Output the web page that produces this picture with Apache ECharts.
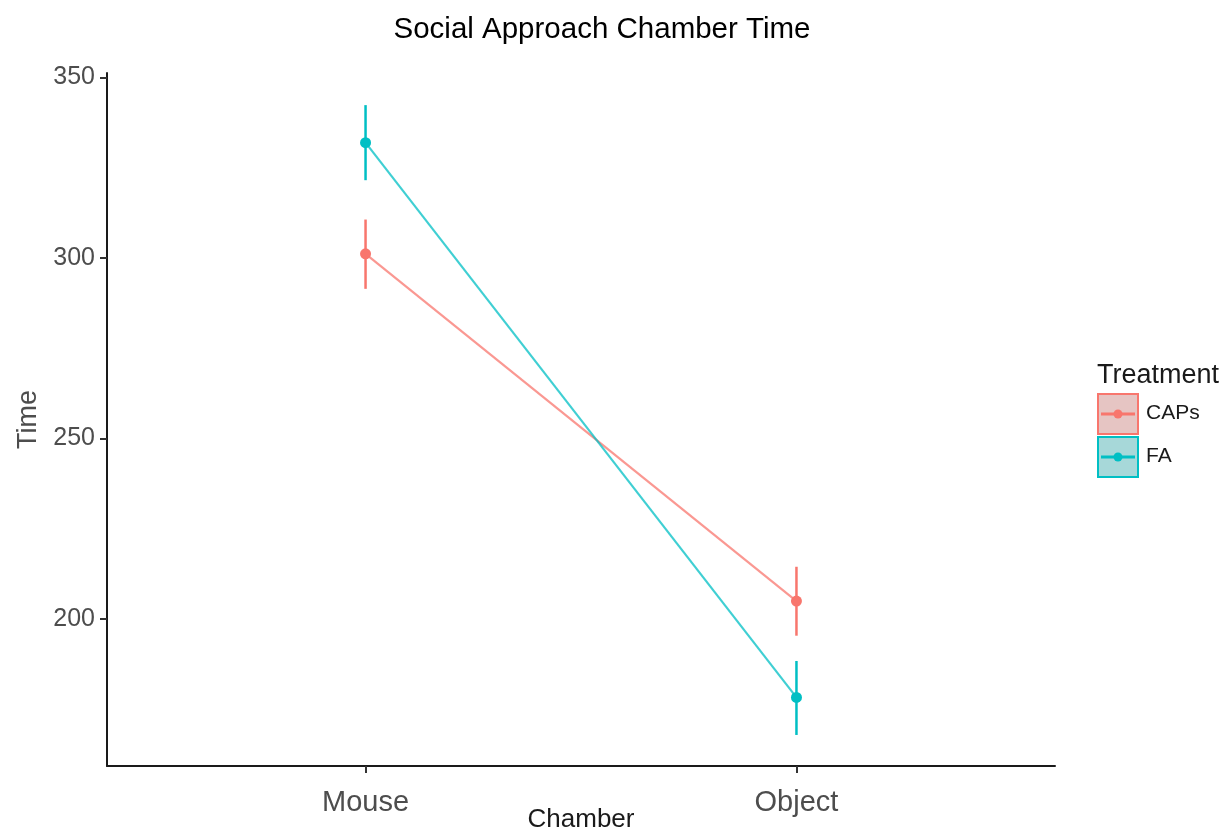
<!DOCTYPE html>
<html>
<head>
<meta charset="utf-8">
<script src="https://cdn.jsdelivr.net/npm/echarts@6/dist/echarts.min.js"></script>
<style>
  html, body { margin: 0; padding: 0; background: #ffffff; }
  #chart { width: 1225px; height: 833px; }
</style>
</head>
<body>
<div id="chart"></div>
<script>
// Chamber categories on the x axis
const chambers = ['Mouse', 'Object'];
const yTicks = [200, 250, 300, 350];

// Treatment groups
const treatments = ['CAPs', 'FA'];
const colors = ['#F8766D', '#00BFC4'];

// Mean chamber time per treatment (Mouse, Object)
const capsMean = [301.1, 204.9];
const faMean = [331.9, 178.2];

// Error bar limits per treatment (Mouse, Object)
const capsLower = [291.4, 195.3];
const capsUpper = [310.6, 214.4];
const faLower = [321.5, 167.8];
const faUpper = [342.3, 188.3];

const means = [capsMean, faMean];
const lowers = [capsLower, faLower];
const uppers = [capsUpper, faUpper];

const FONT = '"Liberation Sans", Arial, Helvetica, sans-serif';

const chart = echarts.init(document.getElementById('chart'), null, { renderer: 'canvas' });

const series = [];
treatments.forEach((name, i) => {
  series.push({
    name: name + ' error',
    type: 'custom',
    data: chambers.map((c, k) => [k + 1, lowers[i][k], uppers[i][k]]),
    renderItem: function (params, api) {
      const x = api.value(0);
      const lo = api.coord([x, api.value(1)]);
      const hi = api.coord([x, api.value(2)]);
      return {
        type: 'line',
        shape: { x1: lo[0], y1: lo[1], x2: hi[0], y2: hi[1] },
        style: { stroke: colors[i], lineWidth: 2.5 }
      };
    },
    z: 2,
    silent: true
  });
});
treatments.forEach((name, i) => {
  series.push({
    name: name,
    type: 'line',
    data: chambers.map((c, k) => [k + 1, means[i][k]]),
    symbol: 'circle',
    symbolSize: 11,
    showSymbol: true,
    lineStyle: { color: colors[i], width: 2.2, opacity: 0.75 },
    itemStyle: { color: colors[i] },
    z: 3,
    silent: true,
    animation: false
  });
});

// Legend keys drawn as graphic elements
const legendX = 1098, legendY0 = 394, keyW = 40, keyH = 40, keyGap = 3;
const legendGraphics = [{
  type: 'text',
  left: 1097,
  top: 362,
  style: { text: 'Treatment', font: '27px ' + FONT, fill: '#1a1a1a' }
}];
treatments.forEach((name, i) => {
  const y = legendY0 + i * (keyH + keyGap);
  legendGraphics.push({
    type: 'rect',
    shape: { x: legendX, y: y, width: keyW, height: keyH },
    style: { fill: echarts.color.modifyAlpha(colors[i], 0.3), stroke: colors[i], lineWidth: 2 }
  });
  legendGraphics.push({
    type: 'rect',
    shape: { x: legendX + 1, y: y + 1, width: keyW - 2, height: keyH - 2 },
    style: { fill: 'rgba(110,110,110,0.16)' }
  });
  legendGraphics.push({
    type: 'line',
    shape: { x1: legendX + 3, y1: y + keyH / 2, x2: legendX + keyW - 3, y2: y + keyH / 2 },
    style: { stroke: colors[i], lineWidth: 3 }
  });
  legendGraphics.push({
    type: 'circle',
    shape: { cx: legendX + keyW / 2, cy: y + keyH / 2, r: 4.5 },
    style: { fill: colors[i] }
  });
  legendGraphics.push({
    type: 'text',
    left: 1146,
    top: y + keyH / 2 - 11,
    style: { text: name, font: '21px ' + FONT, fill: '#1a1a1a' }
  });
});

chart.setOption({
  animation: false,
  backgroundColor: '#ffffff',
  title: {
    text: 'Social Approach Chamber Time',
    left: 597,
    top: 10,
    textAlign: 'center',
    textStyle: { fontFamily: FONT, fontSize: 29.5, fontWeight: 'normal', color: '#000000' }
  },
  grid: { left: 107, right: 170, top: 73, bottom: 67, containLabel: false, outerBoundsMode: 'none' },
  xAxis: {
    type: 'value',
    min: 0.4,
    max: 2.6,
    name: 'Chamber',
    nameLocation: 'middle',
    nameGap: 41,
    nameMoveOverlap: false,
    nameTextStyle: { fontFamily: FONT, fontSize: 26, color: '#1a1a1a', verticalAlign: 'top' },
    axisLine: { show: true, lineStyle: { color: '#1a1a1a', width: 2 } },
    axisTick: { show: true, length: 7, lineStyle: { color: '#333333', width: 2 }, customValues: [1, 2] },
    axisLabel: {
      customValues: [1, 2],
      margin: 22,
      fontFamily: FONT,
      fontSize: 29,
      color: '#4d4d4d',
      formatter: v => chambers[Math.round(v) - 1]
    },
    splitLine: { show: false }
  },
  yAxis: {
    type: 'value',
    min: 159.2,
    max: 351.2,
    name: 'Time',
    nameLocation: 'middle',
    nameGap: 65,
    nameMoveOverlap: false,
    nameRotate: 90,
    nameTextStyle: { fontFamily: FONT, fontSize: 27, color: '#4d4d4d' },
    axisLine: { show: true, lineStyle: { color: '#1a1a1a', width: 2 } },
    axisTick: { show: true, length: 7, lineStyle: { color: '#333333', width: 2 }, customValues: yTicks },
    axisLabel: {
      customValues: yTicks,
      margin: 12,
      fontFamily: FONT,
      fontSize: 25,
      color: '#4d4d4d'
    },
    splitLine: { show: false }
  },
  series: series,
  graphic: legendGraphics
});
</script>
</body>
</html>
